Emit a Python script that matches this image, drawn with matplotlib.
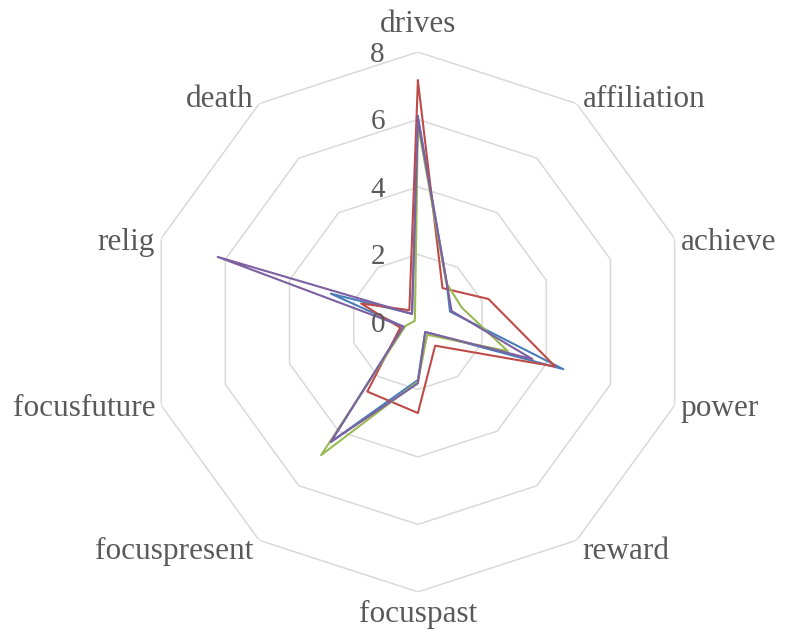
import numpy as np
import matplotlib.pyplot as plt

categories = ["drives", "affiliation", "achieve", "power", "reward",
              "focuspast", "focuspresent", "focusfuture", "relig", "death"]

# values, one list per series
blue = [6.1, 1.45, 1.0, 4.53, 0.37, 1.72, 4.4, 0.45, 2.71, 0.3]
red = [7.15, 1.24, 2.2, 4.28, 0.87, 2.7, 2.55, 0.55, 1.77, 0.43]
green = [5.85, 1.43, 1.37, 2.8, 0.47, 1.77, 4.88, 0.39, 0.1, 0.15]
purple = [6.0, 1.45, 1.05, 3.57, 0.37, 1.82, 4.4, 0.45, 6.24, 0.29]

series = [blue, red, green, purple]
colors = ["#4A7EBB", "#BE4B48", "#98B954", "#7D60A0"]

ticks = [0, 2, 4, 6, 8]

plt.rcParams['font.family'] = ['Liberation Serif', 'DejaVu Serif']

n = len(categories)
ang = np.arange(n) * 2 * np.pi / n
ang_c = np.append(ang, ang[0])

fig = plt.figure(figsize=(7.87, 6.37), dpi=100)
ax = fig.add_axes([0.188, 0.0706, 0.686, 0.848], projection="polar")
ax.set_theta_offset(np.pi / 2)
ax.set_theta_direction(-1)
ax.set_ylim(0, 8)
ax.grid(False)
ax.spines["polar"].set_visible(False)
ax.set_xticks([])
ax.set_yticks([])
ax.patch.set_alpha(0)

# polygon grid
for t in ticks[1:]:
    ax.plot(ang_c, [t] * (n + 1), color="#D9D9D9", lw=1.1, zorder=1)

for vals, c in zip(series, colors):
    v = np.append(vals, vals[0])
    ax.plot(ang_c, v, color=c, lw=1.5, zorder=3)

# value labels to the left of the vertical axis
for t in ticks:
    ax.annotate(str(t), xy=(0, t), xytext=(-33, 0), textcoords="offset pixels",
                ha="right", va="center_baseline", fontsize=21, color="#595959")

# category labels
for a, lab in zip(ang, categories):
    deg = np.degrees(a)
    if np.isclose(deg, 0):
        ha, va, dx, dy = "center", "bottom", 0, 13
    elif np.isclose(deg, 180):
        ha, va, dx, dy = "center", "top", 0, -8
    elif deg < 180:
        ha, va, dx, dy = "left", "center_baseline", 6, 0
    else:
        ha, va, dx, dy = "right", "center_baseline", -6, 0
    if np.isclose(deg, 36) or np.isclose(deg, 324):
        dy = 8
    if np.isclose(deg, 144) or np.isclose(deg, 216):
        dy = -8
    ax.annotate(lab, xy=(a, 8), xytext=(dx, dy), textcoords="offset pixels",
                ha=ha, va=va, fontsize=22.5, color="#595959")

fig.savefig("out.png", dpi=100)
